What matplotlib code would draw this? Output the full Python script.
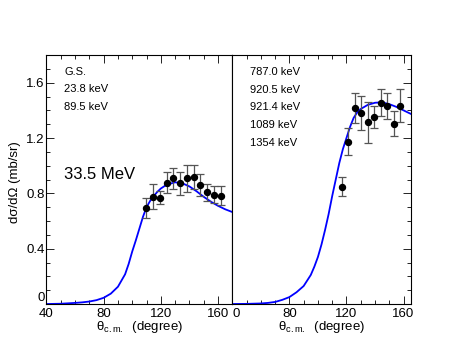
import matplotlib
matplotlib.use("Agg")
import matplotlib.pyplot as plt
import matplotlib.transforms as mtransforms
from matplotlib.ticker import MultipleLocator

plt.rcParams['font.family'] = ['Liberation Sans', 'DejaVu Sans']
plt.rcParams['mathtext.fontset'] = 'custom'
plt.rcParams['mathtext.rm'] = 'Liberation Sans'
plt.rcParams['mathtext.it'] = 'Liberation Sans:italic'

# left panel: G.S. + 23.8 + 89.5 keV
left_theta = [109.6, 114.7, 119.4, 124.1, 128.7, 133.6, 138.5, 143.2, 147.6, 152.5, 157.2, 161.9]
left_xs = [0.692, 0.776, 0.769, 0.877, 0.909, 0.873, 0.909, 0.916, 0.860, 0.808, 0.790, 0.783]
left_err = [0.072, 0.088, 0.045, 0.078, 0.077, 0.082, 0.098, 0.088, 0.078, 0.060, 0.063, 0.069]

left_calc_theta = [40, 50, 60, 65, 70, 75, 80, 85, 90, 95, 97.5, 100, 102.5, 105, 107.5, 110,
                   112.5, 115, 117.5, 120, 122.5, 125, 130, 135, 140, 145, 150, 155, 160, 165, 170]
left_calc = [0.0, 0.002, 0.008, 0.012, 0.018, 0.028, 0.045, 0.075, 0.125, 0.215, 0.29, 0.38,
             0.46, 0.545, 0.63, 0.70, 0.745, 0.78, 0.81, 0.835, 0.852, 0.865, 0.880, 0.873,
             0.850, 0.815, 0.775, 0.740, 0.710, 0.685, 0.665]

# right panel: 787.0 - 1354 keV
right_theta = [116.7, 121.3, 126.0, 130.4, 134.9, 139.5, 144.0, 148.4, 153.1, 157.5]
right_xs = [0.848, 1.174, 1.415, 1.383, 1.314, 1.350, 1.456, 1.434, 1.304, 1.434]
right_err = [0.070, 0.096, 0.110, 0.123, 0.147, 0.080, 0.099, 0.093, 0.090, 0.117]

right_calc_theta = [40, 50, 60, 65, 70, 75, 80, 85, 90, 95, 97.5, 100, 102.5, 105, 107.5, 110,
                    112.5, 115, 117.5, 120, 122.5, 125, 127.5, 130, 135, 140, 145, 150, 155,
                    160, 165]
right_calc = [0.0, 0.001, 0.004, 0.008, 0.015, 0.03, 0.05, 0.085, 0.13, 0.21, 0.27, 0.34,
              0.43, 0.535, 0.65, 0.78, 0.90, 1.02, 1.12, 1.20, 1.28, 1.345, 1.385, 1.41,
              1.44, 1.455, 1.458, 1.445, 1.425, 1.40, 1.375]

left_levels = ['G.S.', '23.8 keV', '89.5 keV']
right_levels = ['787.0 keV', '920.5 keV', '921.4 keV', '1089 keV', '1354 keV']
energy_label = '33.5 MeV'

y_ticks = [0, 0.4, 0.8, 1.2, 1.6]
y_ticklabels = ['0', '0.4', '0.8', '1.2', '1.6']
x_ticks = [40, 80, 120, 160]

xlabel = 'θ$_{\\rm c.m.}$  (degree)'
ylabel = 'dσ/dΩ (mb/sr)'


def style_axis(ax, xmax, side):
    ax.set_xlim(40, xmax)
    ax.set_ylim(0, 1.8)
    ax.set_xticks(x_ticks)
    ax.xaxis.set_minor_locator(MultipleLocator(10))
    ax.set_yticks(y_ticks)
    ax.set_yticklabels(y_ticklabels)
    ax.yaxis.set_minor_locator(MultipleLocator(0.1))
    ax.tick_params(which='both', direction='in', top=True, bottom=True,
                   left=(side == 'left'), right=(side == 'right'),
                   width=0.6, labelsize=9.5)
    ax.tick_params(which='major', length=5.5)
    ax.tick_params(which='minor', length=3)
    ax.tick_params(axis='x', pad=3)
    ax.tick_params(axis='y', pad=1.5)
    for s in ax.spines.values():
        s.set_linewidth(0.8)
    ax.set_xlabel(xlabel, fontsize=9.5)
    ax.xaxis.set_label_coords(0.5, -0.062)
    ax.xaxis.label.set_va('top')


def draw_panel(ax, theta, xs, err, calc_theta, calc):
    ax.plot(calc_theta, calc, color='#0000ff', lw=1.3, zorder=2)
    ax.errorbar(theta, xs, yerr=err, fmt='o', color='black', ms=4.3,
                ecolor='#555555', elinewidth=0.9, capsize=3, capthick=0.9, zorder=3)


fig = plt.figure(figsize=(4.63, 3.58), dpi=100)
ax1 = fig.add_axes([0.1004, 0.1508, 0.4013, 0.6955])
ax2 = fig.add_axes([0.5017, 0.1508, 0.3853, 0.6955])

draw_panel(ax1, left_theta, left_xs, left_err, left_calc_theta, left_calc)
draw_panel(ax2, right_theta, right_xs, right_err, right_calc_theta, right_calc)

style_axis(ax1, 170, 'left')
style_axis(ax2, 165, 'right')
ax1.set_ylabel(ylabel, fontsize=9.5)
ax1.yaxis.set_label_coords(-0.139, 0.49)
# ROOT-like raised zero label
ax1.yaxis.get_major_ticks()[0].label1.set_va('bottom')

ax2.set_xticklabels(['0', '80', '120', '160'])
ax2.tick_params(labelleft=False)
shift = mtransforms.ScaledTranslation(3 / 72, 0, fig.dpi_scale_trans)
zero_lab = ax2.xaxis.get_major_ticks()[0].label1
zero_lab.set_transform(zero_lab.get_transform() + shift)

left_y = [0.933, 0.862, 0.790]
for lab, yy in zip(left_levels, left_y):
    ax1.text(0.096, yy, lab, transform=ax1.transAxes, fontsize=8, va='center')
ax1.text(0.096, 0.521, energy_label, transform=ax1.transAxes, fontsize=12, va='center')

right_y = [0.932, 0.860, 0.790, 0.718, 0.647]
for lab, yy in zip(right_levels, right_y):
    ax2.text(0.099, yy, lab, transform=ax2.transAxes, fontsize=8, va='center')

fig.savefig('out.png', dpi=100)
